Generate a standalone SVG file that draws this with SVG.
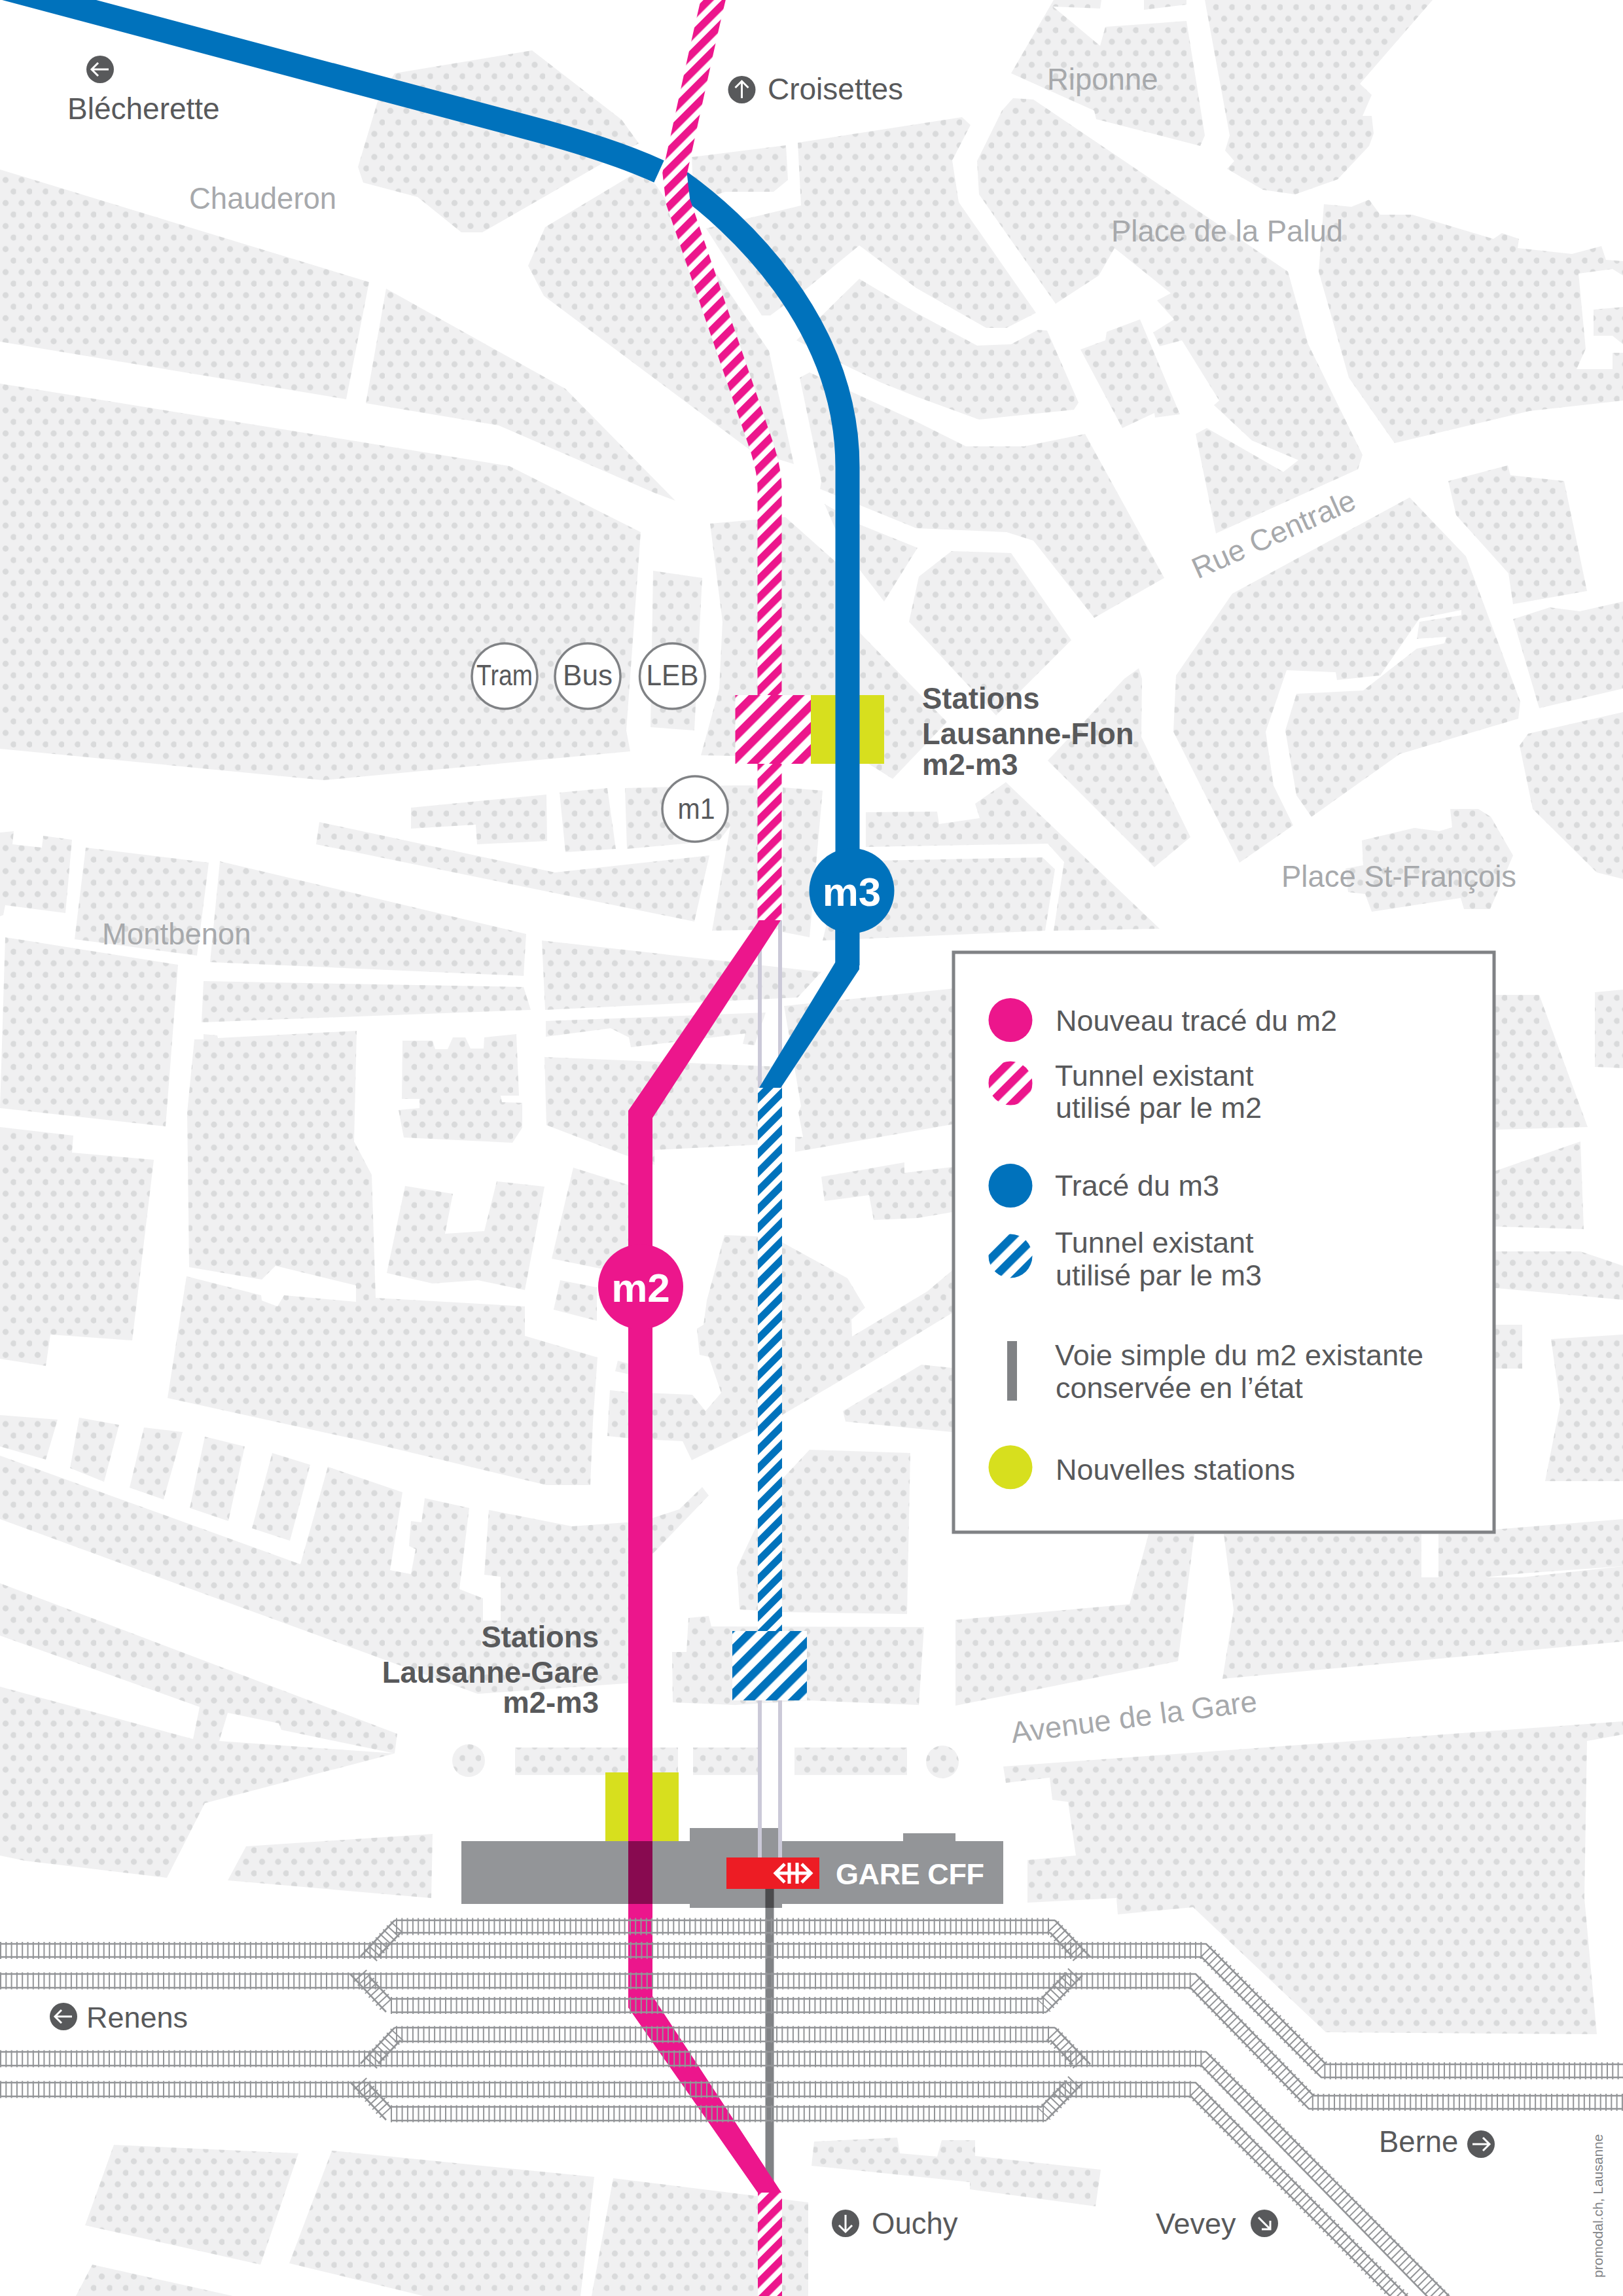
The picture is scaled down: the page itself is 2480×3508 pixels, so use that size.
<svg xmlns="http://www.w3.org/2000/svg" xmlns:xlink="http://www.w3.org/1999/xlink" width="2480" height="3508" viewBox="0 0 2480 3508">
<style>
text{font-family:"Liberation Sans",Arial,sans-serif}
.dk{fill:#58595b;font-size:46px}
.lb{fill:#a7a9ac;font-size:45.5px}
.st{fill:#58595b;font-size:45.5px;font-weight:bold}
.lg{fill:#58595b;font-size:45px}
.bub{fill:#fff;stroke:#808285;stroke-width:3.5}
.bt{fill:#58595b;font-size:44px;text-anchor:middle}
.ln{fill:#fff;font-size:62px;font-weight:bold;text-anchor:middle}
.tie{fill:none;stroke:#939598;stroke-width:1.8;stroke-dasharray:2 6.3}
.t26{stroke-width:26}
.rail{fill:none;stroke:#939598;stroke-width:2.6}
.ar{fill:none;stroke:#fff;stroke-width:3}
.ic{fill:#58595b}
.lime{fill:#d7df1e}
.pk{fill:#ec168c}
.bl{fill:#0072bc}
.road{fill:#fff}
</style>
<defs>
<pattern id="dots" patternUnits="userSpaceOnUse" width="24.5" height="35.2">
<rect width="24.5" height="35.2" fill="#f0f0f1"/>
<circle cx="8.5" cy="28.6" r="4.6" fill="#d9dadb"/><circle cx="20.75" cy="11" r="4.6" fill="#d9dadb"/>
</pattern>
<pattern id="hp" patternUnits="userSpaceOnUse" width="20" height="20" patternTransform="rotate(45)"><rect width="20" height="20" fill="#fff"/><rect width="11.5" height="20" fill="#ec168c"/></pattern>
<pattern id="hb" patternUnits="userSpaceOnUse" width="20" height="20" patternTransform="rotate(45)"><rect width="20" height="20" fill="#fff"/><rect width="11" height="20" fill="#0072bc"/></pattern>
<pattern id="hpw" patternUnits="userSpaceOnUse" width="24" height="24" patternTransform="rotate(45)"><rect width="24" height="24" fill="#fff"/><rect width="12.5" height="24" fill="#ec168c"/></pattern>
<pattern id="hbw" patternUnits="userSpaceOnUse" width="24" height="24" patternTransform="rotate(45)"><rect width="24" height="24" fill="#fff"/><rect width="12.5" height="24" fill="#0072bc"/></pattern>
<g id="joinA"><path class="rail" d="M603,2934L551,2989M612,2953L578,2989"/><path class="tie t26" d="M607,2944L565,2989"/><path class="rail" d="M1612,2934L1666,2990M1605,2953L1639,2990"/><path class="tie t26" d="M1608,2944L1652,2990"/></g>
<g id="joinB"><path class="rail" d="M535,3016L590,3074M564,3020L597,3055"/><path class="tie t26" d="M550,3018L593,3065"/><path class="rail" d="M1630,3014L1590,3055M1654,3018L1599,3074"/><path class="tie t26" d="M1642,3016L1595,3065"/></g>
</defs>
<rect width="2480" height="3508" fill="#fff"/>
<g id="map" fill="url(#dots)">
<path d="M603,112L813,77L950,183L976,219L918,251L737,355L705,355L638,301L555,279L547,255L577,155Z"/>
<path d="M0,259L564,431L529,610L0,522Z"/>
<path d="M590,441L864,594L1032,765L1000,753L762,650L559,616Z"/>
<path d="M0,586L778,712L979,813L957,1116L963,1148L494,1192L0,1144Z"/>
<path d="M833,347L970,265L1001,281L1095,418L1175,536L1213,709L1148,689L831,452L807,406Z"/>
<path d="M1057,240L1201,222L1204,275L1182,293L1108,293L1060,310Z"/>
<path d="M1219,218L1470,179L1483,191L1455,245L1465,309L1583,478L1538,501L1507,501L1400,440L1313,375L1235,439L1177,482L1164,482L1079,349L1224,314Z"/>
<path d="M1217,520L1313,426L1400,478L1493,528L1545,526L1586,504L1600,505L1648,615L1641,626L1496,641L1400,606L1345,584L1287,556Z"/>
<path d="M1222,577L1237,569L1400,644L1476,682L1565,682L1658,663L1779,883L1672,944L1579,826L1538,813L1400,807L1253,747L1255,735Z"/>
<path d="M1454,842L1545,845L1637,978L1522,1093L1389,950L1404,881Z"/>
<path d="M1260,770L1315,802L1402,837L1351,919L1290,840Z"/>
<path d="M998,872L1073,883L1061,1116L994,1111Z"/>
<path d="M1085,800L1200,790L1290,870L1315,968L1447,1103L1364,1190L1300,1150L1230,1157L1071,1154L1099,1052L1104,950Z"/>
<path d="M628,1234L835,1214L836,1285L729,1290L727,1260L628,1266Z"/>
<path d="M855,1211L928,1204L941,1297L864,1302Z"/>
<path d="M955,1204L1119,1200L1190,1200L1190,1420L1088,1422L1116,1262L1099,1284L958,1297Z"/>
<path d="M488,1256L848,1333L1084,1307L1061,1408L483,1290Z"/>
<path d="M1196,1203L1257,1208L1237,1432L1196,1424Z"/>
<path d="M1323,1241L1432,1240L1435,1259L1497,1250L1490,1228L1537,1195L1772,1419L1610,1422L1626,1317L1601,1289L1323,1294Z"/>
<path d="M1338,1315L1593,1310L1612,1328L1597,1422L1257,1437L1290,1300Z"/>
<path d="M1601,1162L1718,1037L1740,1021L1745,1037L1744,1126L1819,1279L1764,1325Z"/>
<path d="M1797,1032L1883,907L2154,760L2240,850L2323,1072L2320,1098L2139,1152L2004,1248L1981,1215L1964,1116L1981,1060L2083,1055L2165,991L2207,983L2210,973L2165,976L2169,950L2233,940L2233,932L2169,945L2109,1032L2043,1039L2041,1027L1966,1024L1934,1118L1946,1200L1976,1261L1894,1318L1793,1118Z"/>
<path d="M2213,735L2304,711L2308,726L2390,735L2425,903L2312,923L2305,876L2225,787Z"/>
<path d="M2312,946L2368,928L2414,934L2480,919L2480,1052L2352,1082Z"/>
<path d="M2322,1139L2335,1121L2480,1088L2480,1343L2440,1333L2342,1236Z"/>
<path d="M2081,1284L2161,1265L2199,1270L2219,1264L2216,1236L2259,1236L2278,1248L2312,1307L2277,1389L2237,1389L2232,1372L2096,1393L2086,1366L2060,1363L2056,1327L2083,1322Z"/>
<path d="M1610,0L1545,112L1672,169L1675,182L1834,223L1841,207L1813,32L1689,41L1681,70L1609,10L1681,13L1683,0Z"/>
<path d="M1748,0L1748,15L1813,7L1813,0Z"/>
<path d="M1841,0L2189,0L2078,128L2096,145L2082,177L2096,177L2099,204L2092,223L2044,274L1979,297L1930,290L1875,258L1886,246L1872,230L1879,207Z"/>
<path d="M1548,150L1579,152L1968,415L1999,526L2082,695L2075,717L1858,815L1827,663L1844,654L1961,721L1984,703L1913,673L1855,619L1863,612L1806,520L1772,529L1762,508L1794,488L1768,459L1789,448L1703,379L1679,421L1613,464L1496,297L1493,246L1531,169Z"/>
<path d="M1651,534L1689,520L1691,507L1742,488L1803,633L1765,638L1764,631L1715,654Z"/>
<path d="M2023,312L2065,316L2092,305L2109,328L2158,328L2282,365L2295,356L2321,365L2319,379L2402,388L2447,376L2454,397L2480,399L2480,612L2337,628L2131,677L2061,577L2015,415Z"/>
<path class="road" d="M2412,418L2464,411L2480,421L2480,469L2435,473L2435,513L2464,513L2480,526L2480,539L2464,539L2464,564L2409,564L2423,533Z"/>
<path d="M1198,1537L1460,1510L1460,1717L1215,1760L1215,1737L1227,1737L1220,1700L1224,1690Z"/>
<path d="M832,1615L1195,1630L1195,1745L1157,1749L1000,1757L1000,1780L950,1763L835,1719Z"/>
<path d="M834,1560L1170,1547L1153,1597L1135,1595L1139,1579L964,1600L961,1585L933,1571L834,1584Z"/>
<path d="M828,1437L1255,1485L1219,1524L833,1543Z"/>
<path d="M0,1272L21,1270L19,1290L64,1295L66,1277L110,1283L100,1395L8,1383L5,1398L0,1400Z"/>
<path d="M131,1295L319,1318L301,1460L114,1435Z"/>
<path d="M336,1316L804,1427L800,1491L321,1470Z"/>
<path d="M8,1432L272,1474L253,1721L0,1693Z"/>
<path d="M311,1499L800,1508L811,1543L308,1562Z"/>
<path d="M311,1580L332,1582L333,1586L545,1575L541,1744L568,1795L574,1983L802,1996L802,2041L913,2074L906,2172L902,2269L835,2269L552,2201L256,2136L285,1950L399,1979L400,1987L424,1996L434,1979L544,1989L544,1964L421,1934L400,1955L289,1936L286,1700L297,1588L311,1588Z"/>
<path d="M0,1722L112,1735L110,1761L235,1772L202,2048L77,2039L70,2087L0,2076Z"/>
<path d="M615,1590L661,1590L665,1603L684,1603L692,1585L711,1585L719,1602L739,1602L740,1585L789,1580L793,1674L765,1674L767,1684L798,1685L798,1723L783,1746L617,1738L609,1696L641,1693L641,1679L614,1679Z"/>
<path d="M619,1812L692,1824L680,1885L740,1881L759,1805L832,1813L802,1971L730,1956L661,1961L591,1945Z"/>
<path d="M876,1784L975,1815L975,1950L843,1923Z"/>
<path d="M856,1956L912,1967L912,2018L846,2001Z"/>
<path d="M932,2124L985,2130L985,2200L928,2194Z"/>
<path d="M944,2079L985,2090L985,2105L940,2095Z"/>
<path d="M1255,1798L1382,1776L1382,1792L1455,1783L1455,1852L1402,1861L1335,1864L1328,1826L1260,1835Z"/>
<path d="M985,2128L1058,2131L1078,2156L1102,2128L1083,2073L1069,2070L1065,2030L1075,2024L1080,1987L1107,1887L1157,1889L1195,1898L1295,1953L1322,1998L1301,2016L1302,2042L1417,1973L1455,1941L1455,2006L1317,2090L1195,2162L1157,2182L1057,2231L1043,2202L985,2199Z"/>
<path d="M1288,2156L1408,2085L1455,2090L1455,2188L1292,2172Z"/>
<path d="M1237,2215L1391,2220L1386,2466L1195,2463L1130,2459L1126,2395L1157,2329L1195,2260Z"/>
<path d="M1052,2472L1083,2469L1087,2485L1412,2486L1404,2605L1234,2598L1123,2605L1028,2601L1027,2524L1049,2524Z"/>
<path d="M1460,2475L1726,2451L1755,2344L1825,2344L1800,2538L1460,2606Z"/>
<path d="M1870,2344L2172,2344L2172,2410L2325,2410L2480,2393L2480,2508L1868,2565L1885,2460Z"/>
<path d="M980,2325L1038,2306L1073,2272L1083,2285L980,2392Z"/>
<path d="M0,2162L88,2169L70,2230L0,2210Z"/>
<path d="M121,2166L182,2177L159,2264L107,2243Z"/>
<path d="M220,2181L279,2188L250,2291L198,2273Z"/>
<path d="M313,2195L374,2210L349,2324L290,2304Z"/>
<path d="M416,2220L474,2238L443,2354L385,2335Z"/>
<path d="M0,2224L459,2390L501,2241L615,2280L596,2399L628,2405L635,2367L625,2362L628,2324L644,2326L649,2289L717,2304L702,2428L738,2442L738,2476L765,2476L765,2409L740,2406L747,2307L874,2332L985,2324L985,2570L730,2588L0,2321Z"/>
<path d="M0,2419L607,2649L603,2679L430,2643L426,2633L348,2617L335,2660L603,2679L313,2755L255,2869L38,2843L0,2835L0,2577L295,2657L305,2608L0,2499Z"/>
<path d="M376,2821L661,2802L659,2900L348,2873Z"/>
<circle cx="716" cy="2690" r="25"/><rect x="787" y="2670" width="249" height="42"/><rect x="1059" y="2670" width="99" height="42"/><rect x="1214" y="2670" width="172" height="42"/><circle cx="1440" cy="2692" r="25"/>
<path d="M1533,2699L2480,2630L2480,2650L2425,2660L2421,2900L2440,3108L2026,3105L1823,2914L1708,2925L1706,2900L1570,2907L1570,2842L1644,2835L1632,2753L1608,2750L1604,2716L1537,2724Z"/>
<path d="M2285,1520L2352,1520L2426,1722L2285,1726Z"/>
<path d="M2437,1516L2480,1512L2480,1632L2437,1630Z"/>
<path d="M2285,1789L2415,1744L2420,1878L2285,1874Z"/>
<path d="M2285,1912L2415,1912L2480,1934L2480,1986L2285,1968Z"/>
<path d="M2285,2024L2326,2024L2326,2091L2285,2091Z"/>
<path d="M2370,2046L2480,2039L2480,2263L2361,2263L2384,2146Z"/>
<path d="M2198,2344L2480,2321L2480,2393L2325,2404L2198,2418Z"/>
<path d="M174,3277L456,3290L398,3460L130,3400Z"/>
<path d="M507,3286L908,3326L887,3508L647,3508L442,3458Z"/>
<path d="M937,3328L1235,3365L1235,3508L904,3508Z"/>
<path d="M141,3460L356,3508L116,3508Z"/>
<path d="M1244,3272L1371,3266L1375,3290L1432,3295L1439,3270L1490,3270L1490,3294L1682,3315L1674,3371L1482,3345L1482,3334L1240,3309Z"/>
</g>
<g id="place-labels">
<text class="lb" x="289" y="319">Chauderon</text>
<text class="lb" x="1600" y="137">Riponne</text>
<text class="lb" x="1698" y="369">Place de la Palud</text>
<text class="lb" transform="translate(1830,885) rotate(-24)">Rue Centrale</text>
<text class="lb" x="1958" y="1355">Place St-François</text>
<text class="lb" x="156" y="1443">Montbenon</text>
<text class="lb" transform="translate(1547,2663) rotate(-7.4)">Avenue de la Gare</text>
</g>
<g id="gare-building">
<path fill="#939598" d="M705,2813H1054V2793H1195V2813H1380V2801H1460V2813H1533V2909H1195V2915H1054V2909H705Z"/>
</g>
<g id="station-flon-new"><rect class="lime" x="1239" y="1062" width="112" height="105"/></g>
<g id="station-gare-m2"><rect class="lime" x="925" y="2708" width="112" height="105"/></g>
<g id="connectors" fill="none">
<path stroke="#cbc9d8" stroke-width="6" d="M1161,1406V1680M1192,1406V1680M1161,2598V2838M1192,2598V2838"/>
<path class="pk" d="M1160,1406H1193L997,1708V3050L1194,3350H1158L960,3067V1697Z"/>
<rect x="960" y="2813" width="37" height="96" fill="#880a50"/>
<path stroke="#808285" stroke-width="13" d="M1176,2886V3340"/>
<path stroke="#4b4b4d" stroke-width="13" d="M1176,2886V2915"/>
<path class="pk" d="M997,3050L1194,3350H1158L960,3067Z"/>
<path stroke="#0072bc" stroke-width="37" d="M0,-20L800,193C880,214 950,236 1007,262"/>
<path stroke="#0072bc" stroke-width="37" d="M1040,278C1120,335 1295,490 1295,714V1475"/>
<path class="bl" d="M1276.500,1470L1160,1662H1193L1313,1481V1400H1276.500Z"/>
<path stroke="url(#hb)" stroke-width="37" d="M1176.500,1662V2500"/>
<path stroke="url(#hp)" stroke-width="37" d="M1091,-5C1075,60 1052,170 1031,265L1036,308L1158,665Q1176,715 1176,745V1406"/>
<path stroke="url(#hp)" stroke-width="37" d="M1176.500,3350V3510"/>
</g>
<g id="station-flon"><rect x="1123.500" y="1062" width="115.500" height="105" fill="url(#hpw)"/></g>
<g id="station-gare-m3"><rect x="1119" y="2492" width="114" height="106" fill="url(#hbw)"/></g>
<g id="tracks">
<path class="rail" d="M603,2934H1612M603,2953H1605M0,2970H1843L2026,3154H2480M0,2990H1836L2019,3174H2480M0,3016H1827L2007,3202H2480M0,3037H1819L2000,3222H2480M597,3054H1590M597,3074.500H1599M603,3098H1612M603,3119H1605M0,3135H1843L2230,3524M0,3156H1836L2196,3524M0,3182H1827L2166,3524M0,3203H1820L2140,3524M597,3219H1590M597,3240H1599"/>
<path class="tie t26" d="M605,2943.500H1608M0,2980H1840L2023,3164H2480M0,3026.500H1823L2003,3212H2480M597,3064H1595M605,3108.500H1608M0,3145.500H1840L2215,3524M0,3192.500H1823L2153,3524M597,3229.500H1595"/>
<use xlink:href="#joinA" href="#joinA"/><use xlink:href="#joinB" href="#joinB"/>
<use xlink:href="#joinA" href="#joinA" y="164"/><use xlink:href="#joinB" href="#joinB" y="165"/>
</g>
<g id="gare-label">
<rect x="1110" y="2838" width="142" height="48" fill="#ed1c24"/>
<path fill="none" stroke="#fff" stroke-width="5" d="M1199,2848L1185,2862L1199,2876M1225,2848L1239,2862L1225,2876M1187,2862H1237M1206,2846V2878M1218,2846V2878"/>
<text x="1277" y="2879" fill="#fff" font-size="45" font-weight="bold" textLength="227">GARE CFF</text>
</g>
<g id="m3-badge"><circle class="bl" cx="1301.500" cy="1361" r="65"/><text class="ln" x="1301.500" y="1384">m3</text></g>
<g id="m2-badge"><circle class="pk" cx="979" cy="1966" r="65"/><text class="ln" x="979" y="1989">m2</text></g>
<g id="bus-tram">
<g id="tram"><circle class="bub" cx="771" cy="1033" r="50"/><text class="bt" x="771" y="1047" textLength="86" lengthAdjust="spacingAndGlyphs">Tram</text></g>
<g id="bus"><circle class="bub" cx="898" cy="1033" r="50"/><text class="bt" x="898" y="1047">Bus</text></g>
<g id="leb"><circle class="bub" cx="1027.500" cy="1033" r="50"/><text class="bt" x="1027.500" y="1047" textLength="80" lengthAdjust="spacingAndGlyphs">LEB</text></g>
<g id="m1"><circle class="bub" cx="1062" cy="1236" r="50"/><text class="bt" x="1064" y="1251" textLength="57" lengthAdjust="spacingAndGlyphs">m1</text></g>
</g>
<g id="stations-labels">
<text class="st" x="1409" y="1083">Stations</text><text class="st" x="1409" y="1137">Lausanne-Flon</text><text class="st" x="1409" y="1184">m2-m3</text>
<g text-anchor="end"><text class="st" x="915" y="2517">Stations</text><text class="st" x="915" y="2571">Lausanne-Gare</text><text class="st" x="915" y="2617">m2-m3</text></g>
</g>
<g id="directions">
<g id="dir-blecherette"><circle class="ic" cx="153" cy="106" r="21"/><path class="ar" d="M166,106H140M150,96L140,106L150,116"/><text class="dk" x="103" y="182">Blécherette</text></g>
<g id="dir-croisettes"><circle class="ic" cx="1133.500" cy="137" r="21"/><path class="ar" d="M1133.500,150V124M1123.500,134L1133.500,124L1143.500,134"/><text class="dk" x="1173" y="152">Croisettes</text></g>
<g id="dir-renens"><circle class="ic" cx="97" cy="3081" r="21"/><path class="ar" d="M110,3081H84M94,3071L84,3081L94,3091"/><text class="dk" x="132" y="3098" style="font-size:45px">Renens</text></g>
<g id="dir-ouchy"><circle class="ic" cx="1292" cy="3397" r="21"/><path class="ar" d="M1292,3384V3410M1282,3400L1292,3410L1302,3400"/><text class="dk" x="1332" y="3413" style="font-size:45.500px">Ouchy</text></g>
<g id="dir-vevey"><text class="dk" x="1766" y="3413" style="font-size:45px">Vevey</text><circle class="ic" cx="1932" cy="3397" r="21"/><path class="ar" d="M1923,3388L1941,3406M1941,3393V3406H1928"/></g>
<g id="dir-berne"><text class="dk" x="2107" y="3288" style="font-size:45.500px">Berne</text><circle class="ic" cx="2263" cy="3276" r="21"/><path class="ar" d="M2250,3276H2276M2266,3266L2276,3276L2266,3286"/></g>
</g>
<g id="legend">
<rect x="1457" y="1455" width="826" height="886" fill="#fff" stroke="#808285" stroke-width="5"/>
<circle class="pk" cx="1544" cy="1558.500" r="33.500"/><text class="lg" x="1613" y="1575" textLength="430">Nouveau tracé du m2</text>
<circle cx="1544" cy="1655" r="33.500" fill="url(#hpw)"/><text class="lg" x="1612" y="1659">Tunnel existant</text><text class="lg" x="1613" y="1708">utilisé par le m2</text>
<circle class="bl" cx="1544" cy="1811.500" r="33.500"/><text class="lg" x="1612" y="1827">Tracé du m3</text>
<circle cx="1544" cy="1919" r="33.500" fill="url(#hbw)"/><text class="lg" x="1612" y="1913.500">Tunnel existant</text><text class="lg" x="1613" y="1963.500">utilisé par le m3</text>
<rect x="1539" y="2049" width="15" height="91" fill="#808285"/><text class="lg" x="1612" y="2085.500" textLength="563">Voie simple du m2 existante</text><text class="lg" x="1613" y="2135.500">conservée en l’état</text>
<circle class="lime" cx="1544" cy="2241.700" r="33.500"/><text class="lg" x="1613" y="2260.500" textLength="366">Nouvelles stations</text>
</g>
<text transform="translate(2449,3480) rotate(-90)" fill="#808285" font-size="21">promodal.ch, Lausanne</text>
</svg>
